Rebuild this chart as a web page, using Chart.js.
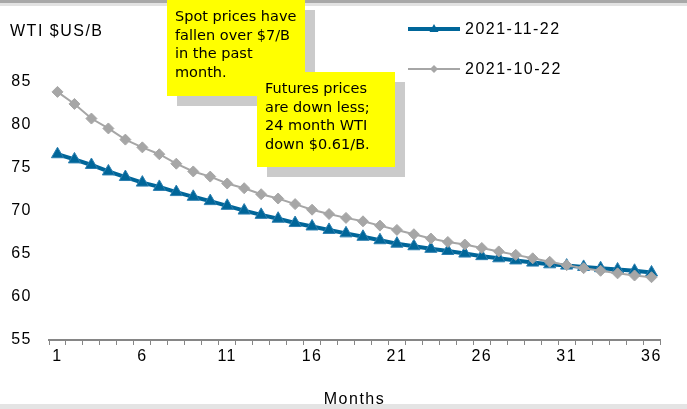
<!DOCTYPE html>
<html>
<head>
<meta charset="utf-8">
<script src="https://cdn.jsdelivr.net/npm/chart.js@4.4.1/dist/chart.umd.min.js"></script>
<style>
  html, body { margin: 0; padding: 0; background: #fff; overflow: hidden; }
  #wrap { position: relative; width: 687px; height: 409px; }
  #wrap canvas { position: absolute; left: 0; top: 0; }
  .band { position: absolute; left: 0; width: 687px; }
  .note {
    position: absolute;
    box-sizing: border-box;
    width: 138px;
    background: #ffff00;
    box-shadow: 10px 10px 0 #cbcbcb;
    font-family: "Comic Sans MS", "DejaVu Sans", sans-serif;
    font-size: 14.5px;
    line-height: 18.5px;
    color: #000;
    padding: 7px 0 0 8px;
    white-space: nowrap;
  }
</style>
</head>
<body>
<div id="wrap">
  <canvas id="chart" width="687" height="409"></canvas>
  <div class="band" style="top:0;height:3px;background:#a8a8a8"></div>
  <div class="band" style="top:3px;height:3px;background:#e2e2e2"></div>
  <div class="band" style="top:404px;height:5px;background:#e4e4e4"></div>
  <div class="note" style="left:167px;top:0;height:96px">Spot prices have<br>fallen over $7/B<br>in the past<br>month.</div>
  <div class="note" style="left:257px;top:72px;height:95px">Futures prices<br>are down less;<br>24 month WTI<br>down $0.61/B.</div>
</div>
<script>
// months along the futures curve
const months = ['1', '2', '3', '4', '5', '6', '7', '8', '9', '10', '11', '12',
  '13', '14', '15', '16', '17', '18', '19', '20', '21', '22', '23', '24',
  '25', '26', '27', '28', '29', '30', '31', '32', '33', '34', '35', '36'];
const shownMonths = ['1', '6', '11', '16', '21', '26', '31', '36'];

const seriesNames = ['2021-11-22', '2021-10-22'];

// WTI futures, $US/B
const wtiNov22 = [76.6, 76.0, 75.35, 74.6, 73.95, 73.3, 72.8, 72.2, 71.65, 71.15, 70.6, 70.05,
  69.55, 69.1, 68.6, 68.2, 67.8, 67.4, 67.0, 66.6, 66.2, 65.9, 65.6, 65.35,
  65.05, 64.75, 64.5, 64.25, 64.0, 63.8, 63.65, 63.5, 63.35, 63.2, 63.05, 62.85];
const wtiOct22 = [83.85, 82.45, 80.75, 79.6, 78.3, 77.4, 76.6, 75.5, 74.6, 74.0, 73.2, 72.65,
  71.95, 71.45, 70.8, 70.15, 69.65, 69.2, 68.8, 68.3, 67.8, 67.3, 66.8, 66.4,
  66.1, 65.7, 65.3, 64.9, 64.5, 64.1, 63.7, 63.35, 63.05, 62.75, 62.5, 62.3];

const yMin = 55, yMax = 85, yStep = 5;

const blue = '#006699';
const grey = '#a6a6a6';
const fontName = '"Liberation Sans", Arial, sans-serif';
const axisFont = { family: fontName, size: 16 };
const spacing = '1.5px';

// the source text is set a little wide
const wideText = {
  id: 'wideText',
  beforeDraw(chart) { chart.ctx.letterSpacing = spacing; }
};

// legend at top right: line sample with marker, then the date
const sideLegend = {
  id: 'sideLegend',
  afterDraw(chart) {
    const ctx = chart.ctx;
    const x0 = 408, x1 = 460;
    chart.data.datasets.forEach((ds, i) => {
      const y = 29 + i * 40;
      const mid = (x0 + x1) / 2;
      ctx.save();
      ctx.strokeStyle = ds.borderColor;
      ctx.lineWidth = ds.borderWidth;
      ctx.beginPath();
      ctx.moveTo(x0, y);
      ctx.lineTo(x1, y);
      ctx.stroke();
      ctx.fillStyle = ds.pointBackgroundColor;
      ctx.beginPath();
      if (ds.pointStyle === 'triangle') {
        ctx.moveTo(mid, y - 5);
        ctx.lineTo(mid + 4.5, y + 3);
        ctx.lineTo(mid - 4.5, y + 3);
      } else {
        ctx.moveTo(mid, y - 4);
        ctx.lineTo(mid + 4, y);
        ctx.lineTo(mid, y + 4);
        ctx.lineTo(mid - 4, y);
      }
      ctx.closePath();
      ctx.fill();
      ctx.fillStyle = '#000';
      ctx.font = '16px ' + fontName;
      ctx.letterSpacing = spacing;
      ctx.textBaseline = 'middle';
      ctx.fillText(ds.label, 465, y + 1);
      ctx.restore();
    });
  }
};

// unit label above the y axis
const unitLabel = {
  id: 'unitLabel',
  afterDraw(chart) {
    const ctx = chart.ctx;
    ctx.save();
    ctx.fillStyle = '#000';
    ctx.font = '16px ' + fontName;
    ctx.letterSpacing = spacing;
    ctx.textBaseline = 'middle';
    ctx.fillText('WTI $US/B', 10, 32);
    ctx.restore();
  }
};

new Chart(document.getElementById('chart'), {
  type: 'line',
  data: {
    labels: months,
    datasets: [
      {
        label: seriesNames[0],
        data: wtiNov22,
        borderColor: blue,
        borderWidth: 4,
        pointStyle: 'triangle',
        pointRadius: 7,
        pointBackgroundColor: blue,
        pointBorderColor: '#2c7fb0',
        pointBorderWidth: 1,
        tension: 0,
        order: 1
      },
      {
        label: seriesNames[1],
        data: wtiOct22,
        borderColor: grey,
        borderWidth: 2,
        pointStyle: 'rectRot',
        pointRadius: 5.5,
        pointBackgroundColor: grey,
        pointBorderColor: grey,
        pointBorderWidth: 1,
        tension: 0,
        order: 0
      }
    ]
  },
  options: {
    responsive: false,
    animation: false,
    layout: { padding: { top: 82, right: 27, bottom: 0, left: 0 } },
    plugins: {
      legend: { display: false },
      tooltip: { enabled: false }
    },
    scales: {
      x: {
        offset: true,
        grid: {
          offset: true,
          drawOnChartArea: false,
          drawTicks: true,
          tickLength: 5,
          color: '#868686',
          lineWidth: 1
        },
        border: { display: true, color: '#868686', width: 2 },
        ticks: {
          autoSkip: false,
          maxRotation: 0,
          padding: 2,
          color: '#000',
          font: axisFont,
          callback: (v, i) => shownMonths.includes(months[i]) ? months[i] : ''
        },
        title: {
          display: true,
          text: 'Months',
          color: '#000',
          font: axisFont,
          padding: { top: 4, bottom: 0 }
        },
        afterFit: s => { s.height = 69; }
      },
      y: {
        min: yMin,
        max: yMax,
        grid: { display: false, drawTicks: false },
        border: { display: false },
        ticks: {
          stepSize: yStep,
          padding: 17,
          color: '#000',
          font: axisFont
        },
        afterFit: s => { s.width = 49; }
      }
    }
  },
  plugins: [wideText, sideLegend, unitLabel]
});
</script>
</body>
</html>
